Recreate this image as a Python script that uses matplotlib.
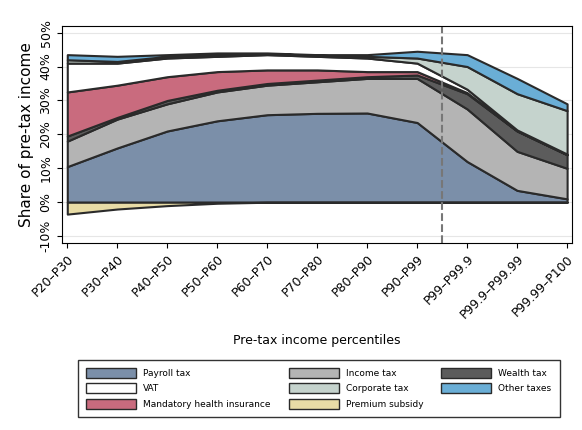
import matplotlib
matplotlib.use("Agg")
import matplotlib.pyplot as plt
import numpy as np
from matplotlib.patches import Patch

cats = ["P20–P30","P30–P40","P40–P50","P50–P60","P60–P70","P70–P80","P80–P90","P90–P99","P99–P99.9","P99.9–P99.99","P99.99–P100"]
payroll = [10.5,16,21,24,25.8,26.2,26.3,23.5,12,3.5,1]
income = [7.5,8.5,8,8.5,8.7,9.3,10.2,13,15.5,11.5,9]
wealth = [1.5,0.5,1,0.5,0.5,0.5,0.5,1,4.5,6,4]
health = [13,9.5,7,5.5,4,3,1.5,1,0.3,0,0]
vat = [8.5,6.5,5.5,4.5,4.5,4,4,2.5,1,0.3,0.2]
corporate = [1,0.5,0.5,0.5,0.3,0.3,0.5,1.5,6.7,10.7,12.8]
other = [1.5,1.5,0.5,0.5,0.2,0.2,0.5,2,3.5,4.5,2]
premium = [-3.5,-2,-1,-0.3,0,0,0,0,0,0,0]

layers = [("Payroll tax",payroll,"#7b8fa9"),("Income tax",income,"#b4b4b4"),
          ("Wealth tax",wealth,"#5c5c5c"),("Mandatory health insurance",health,"#c96b7e"),
          ("VAT",vat,"#ffffff"),("Corporate tax",corporate,"#c5d3cd"),
          ("Other taxes",other,"#6aaed6")]

fig = plt.figure(figsize=(5.82,4.30),dpi=100)
ax = fig.add_axes([0.107,0.435,0.876,0.505])
x = np.arange(len(cats))
base = np.zeros(len(cats))
ec = "#2a2a2a"
for name,vals,c in layers:
    top = base+np.array(vals)
    ax.fill_between(x,base,top,facecolor=c,edgecolor=ec,lw=1.5)
    base = top
ax.fill_between(x,0,premium,facecolor="#e8dca6",edgecolor=ec,lw=1.5)
ax.axvline(7.5,color="#777777",ls="--",lw=1.5)
ax.set_xlim(-0.1,10.1)
ax.set_ylim(-12,52)
ax.set_yticks(range(-10,51,10))
ax.set_yticklabels([f"{v}%" for v in range(-10,51,10)],rotation=90,va="center",fontsize=9)
ax.set_xticks(x)
ax.set_xticklabels(cats,rotation=45,ha="right",rotation_mode="anchor",fontsize=9)
ax.grid(axis="y",color="#e6e6e6",lw=0.8)
ax.set_axisbelow(True)
ax.set_ylabel("Share of pre-tax income",fontsize=11)
ax.set_xlabel("Pre-tax income percentiles",fontsize=9)
ax.xaxis.set_label_coords(0.5,-0.42)

cols = {"Payroll tax":"#7b8fa9","Income tax":"#b4b4b4","Wealth tax":"#5c5c5c",
        "VAT":"#ffffff","Corporate tax":"#c5d3cd","Other taxes":"#6aaed6",
        "Mandatory health insurance":"#c96b7e","Premium subsidy":"#e8dca6"}
order = ["Payroll tax","VAT","Mandatory health insurance","Income tax","Corporate tax",
         "Premium subsidy","Wealth tax","Other taxes"]
handles = [Patch(facecolor=cols[n],edgecolor=ec,label=n) for n in order]
fig.legend(handles=handles,loc="lower center",bbox_to_anchor=(0.548,0.02),ncol=3,
           fontsize=6.5,frameon=True,fancybox=False,edgecolor="black",
           handlelength=5.5,handleheight=1.3,columnspacing=2.0,borderpad=0.9,labelspacing=0.6)
fig.savefig("out.png",dpi=100)
